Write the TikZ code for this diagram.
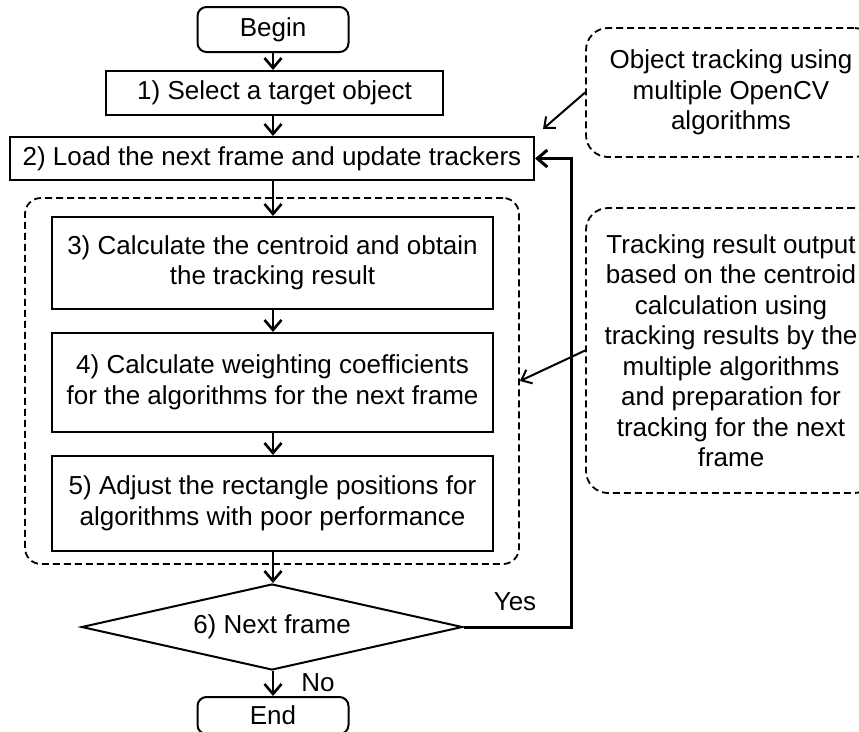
\documentclass[tikz,border=0pt]{standalone}
\usepackage{fontspec}
\setmainfont{Liberation Sans}
\usetikzlibrary{arrows.meta,shapes.geometric}
\begin{document}
\begin{tikzpicture}[x=1pt,y=-1pt,
  every node/.style={font=\fontsize{26}{30.5}\selectfont, align=center, inner sep=0pt},
  term/.style={draw, line width=2pt, rounded corners=9pt, minimum width=151pt, minimum height=45pt},
  proc/.style={draw, line width=2pt, rectangle},
  grp/.style={draw, line width=1.8pt, dash pattern=on 7pt off 4pt, rounded corners=16pt},
  note/.style={draw, line width=1.8pt, dash pattern=on 7pt off 4pt, rounded corners=22pt},
  dec/.style={draw, line width=2pt, diamond, aspect=4.4, minimum width=381pt, minimum height=86pt},
  flow/.style={line width=2.6pt, -{Straight Barb[length=10pt,width=17pt]}},
  thin/.style={line width=2pt, -{Straight Barb[length=9pt,width=15pt]}}
]
\fill[white] (0,0) rectangle (859,731);
\clip (0,0) rectangle (859,731);
\useasboundingbox (0,0) rectangle (859,731);

\node[grp, minimum width=494pt, minimum height=366pt] (grp) at (272,381) {};

\node[term] (begin) at (273,29.5) {Begin};
\node[proc, minimum width=337pt, minimum height=44pt] (s1) at (274.5,93) {1) Select a target object};
\node[proc, minimum width=524pt, minimum height=43pt] (s2) at (272,158.5) {2) Load the next frame and update trackers};
\node[proc, minimum width=441pt, minimum height=92pt] (s3) at (272.5,263) {3) Calculate the centroid and obtain\\the tracking result};
\node[proc, minimum width=441pt, minimum height=99pt] (s4) at (272.5,382.5) {4) Calculate weighting coefficients\\for the algorithms for the next frame};
\node[proc, minimum width=441pt, minimum height=95pt] (s5) at (272.5,503.5) {5) Adjust the rectangle positions for\\algorithms with poor performance};
\node[dec] (dia) at (272,627) {6) Next frame};
\node[term, minimum height=37pt] (end) at (273,715.5) {End};

\node[note, minimum width=290pt, minimum height=129pt] (c1) at (731,92.5) {Object tracking using\\multiple OpenCV\\algorithms};
\node[note, minimum width=290pt, minimum height=285pt] (c2) at (731,350.5) {Tracking result output\\based on the centroid\\calculation using\\tracking results by the\\multiple algorithms\\and preparation for\\tracking for the next\\frame};

\node (yes) at (515,602) {Yes};
\node (no) at (318,683) {No};

\coordinate (t1) at (543,129);

\draw[flow] (begin.south) -- (begin.south |- s1.north);
\draw[flow] (s1.south -| begin.south) -- (begin.south |- s2.north);
\draw[flow] (begin.south |- s2.south) -- (begin.south |- s3.north);
\draw[flow] (begin.south |- s3.south) -- (begin.south |- s4.north);
\draw[flow] (begin.south |- s4.south) -- (begin.south |- s5.north);
\draw[flow] (begin.south |- s5.south) -- (begin.south |- dia.north);
\draw[flow] (begin.south |- dia.south) -- (begin.south |- end.north);
\draw[flow, line width=3pt] (dia.east) -- ++(108,0) |- (s2.east);

\draw[thin] (c1.west) -- (t1);
\draw[thin] (c2.west) -- (grp.east);
\end{tikzpicture}
\end{document}
